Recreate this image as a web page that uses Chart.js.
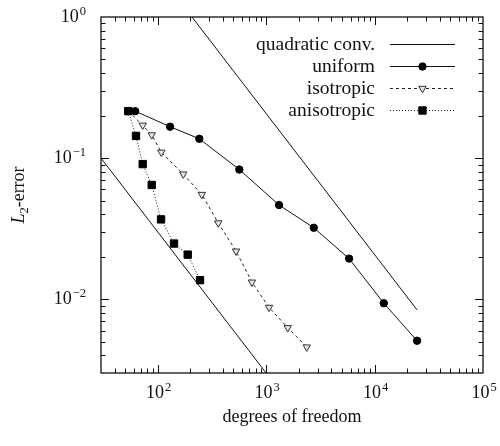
<!DOCTYPE html>
<html><head><meta charset="utf-8">
<script src="https://cdn.jsdelivr.net/npm/chart.js@4/dist/chart.umd.min.js"></script>
<style>html,body{margin:0;padding:0;background:#fff}canvas{display:block}</style>
</head><body>
<canvas id="c" width="500" height="446"></canvas>
<script>
// ---- data ----
const uniformDofs = [62, 130, 242, 566, 1315, 2750, 5820, 12160, 24660];
const uniformErr  = [0.215, 0.167, 0.137, 0.083, 0.0465, 0.0321, 0.0194, 0.00937, 0.00508];

const isoDofs = [53.5, 72.7, 88.1, 108, 172, 255, 362, 528, 740, 1064, 1582, 2370];
const isoErr  = [0.2153, 0.171, 0.146, 0.110, 0.0770, 0.0552, 0.0347, 0.0219, 0.0132, 0.00875, 0.00628, 0.00458];

const anisoDofs = [53.5, 63.1, 72.7, 88.1, 107.4, 141.4, 189.2, 245.6];
const anisoErr  = [0.2153, 0.1436, 0.0907, 0.0645, 0.0368, 0.0248, 0.0207, 0.01365];

const quadLowerDofs = [30, 1000];
const quadLowerErr  = [0.1, 0.003];
const quadUpperDofs = [207, 24660];
const quadUpperErr  = [1, 0.0084];

const legendLabels = ['quadratic conv.', 'uniform', 'isotropic', 'anisotropic'];
const xMajorTicks = [100, 1000, 10000, 100000];
const xTickExps   = ['2', '3', '4', '5'];
const yMajorTicks = [1, 0.1, 0.01];
const yTickExps   = ['0', '\u22121', '\u22122'];
const xRange = [30, 100000];
const yRange = [0.003, 1];
const xTitle = 'degrees of freedom';
const yTitle = ['L', '2', '-error'];

// ---- helpers ----
const pts = (xs, ys) => xs.map((x, i) => ({x: x, y: ys[i]}));
function minorTicks(lo, hi) {
  const out = [];
  for (let d = Math.pow(10, Math.floor(Math.log10(lo))); d < hi; d *= 10) {
    for (let k = 2; k <= 9; k++) { const v = k * d; if (v > lo * 1.0001 && v < hi * 0.9999) out.push(v); }
  }
  return out;
}

const FONT = '"Liberation Serif", "Times New Roman", serif';

const styles = {
  quad:  {borderColor: '#111', borderWidth: 1, borderDash: [], pointStyle: false},
  uni:   {borderColor: '#111', borderWidth: 1, borderDash: [], pointStyle: 'circle', radius: 3.7, rotation: 0, bg: '#000'},
  iso:   {borderColor: '#222', borderWidth: 1, borderDash: [3, 3], pointStyle: 'triangle', radius: 4.3, rotation: 180, bg: '#e4e4e4'},
  aniso: {borderColor: '#111', borderWidth: 1, borderDash: [1, 2], pointStyle: 'rect', radius: 5.2, rotation: 0, bg: '#000'}
};

function ds(label, data, st, order) {
  return {
    label: label, data: data, order: order,
    borderColor: st.borderColor, borderWidth: st.borderWidth, borderDash: st.borderDash,
    backgroundColor: st.bg || st.borderColor,
    pointStyle: st.pointStyle || 'circle', pointRadius: st.pointStyle ? st.radius : 0,
    pointRotation: st.rotation || 0,
    pointBackgroundColor: st.bg || st.borderColor, pointBorderColor: st.pointStyle === 'triangle' ? '#333' : '#000',
    pointBorderWidth: 1, pointHoverRadius: st.pointStyle ? st.radius : 0,
    fill: false, tension: 0
  };
}

const decor = {
  id: 'decor',
  afterDraw(chart) {
    const ctx = chart.ctx, a = chart.chartArea;
    const xs = chart.scales.x, ys = chart.scales.y;
    ctx.save();
    ctx.setLineDash([]);
    ctx.strokeStyle = '#111';
    ctx.lineWidth = 1.3;
    ctx.strokeRect(a.left, a.top, a.right - a.left, a.bottom - a.top);
    ctx.lineWidth = 1;
    const MAJ = 8, MIN = 4.5;
    ctx.beginPath();
    const xt = xMajorTicks.map(v => [v, MAJ]).concat(minorTicks(xRange[0], xRange[1]).map(v => [v, MIN]));
    xt.forEach(([v, L]) => {
      const px = Math.round(xs.getPixelForValue(v)) + 0.5;
      if (px < a.left + 1 || px > a.right - 1) return;
      ctx.moveTo(px, a.bottom); ctx.lineTo(px, a.bottom - L);
      ctx.moveTo(px, a.top); ctx.lineTo(px, a.top + L);
    });
    const yt = yMajorTicks.map(v => [v, MAJ]).concat(minorTicks(yRange[0], yRange[1]).map(v => [v, MIN]));
    yt.forEach(([v, L]) => {
      const py = Math.round(ys.getPixelForValue(v)) + 0.5;
      if (py < a.top + 1 || py > a.bottom - 1) return;
      ctx.moveTo(a.left, py); ctx.lineTo(a.left + L, py);
      ctx.moveTo(a.right, py); ctx.lineTo(a.right - L, py);
    });
    ctx.stroke();

    // tick labels (10^n)
    ctx.fillStyle = '#111';
    const baseFont = '18px ' + FONT, supFont = '12.5px ' + FONT;
    function pow(exp, x, y, align) {
      ctx.font = baseFont; const wb = ctx.measureText('10').width;
      ctx.font = supFont; const we = ctx.measureText(exp).width;
      const x0 = align === 'right' ? x - wb - we - 1 : x - (wb + we + 1) / 2;
      ctx.textAlign = 'left'; ctx.textBaseline = 'alphabetic';
      ctx.font = baseFont; ctx.fillText('10', x0, y);
      ctx.font = supFont; ctx.fillText(exp, x0 + wb + 1, y - 7);
    }
    xMajorTicks.forEach((v, i) => pow(xTickExps[i], xs.getPixelForValue(v) + 1, a.bottom + 25, 'center'));
    yMajorTicks.forEach((v, i) => pow(yTickExps[i], a.left - 15, ys.getPixelForValue(v) + 5, 'right'));

    // axis titles
    ctx.font = '18px ' + FONT; ctx.textAlign = 'center'; ctx.textBaseline = 'alphabetic';
    ctx.fillText(xTitle, (a.left + a.right) / 2, a.bottom + 49);
    ctx.save();
    ctx.translate(24, (a.top + a.bottom) / 2);
    ctx.rotate(-Math.PI / 2);
    const f1 = 'italic 18px ' + FONT, f2 = '12.5px ' + FONT, f3 = '18px ' + FONT;
    ctx.font = f1; const w1 = ctx.measureText(yTitle[0]).width;
    ctx.font = f2; const w2 = ctx.measureText(yTitle[1]).width;
    ctx.font = f3; const w3 = ctx.measureText(yTitle[2]).width;
    let x0 = -(w1 + w2 + w3) / 2;
    ctx.textAlign = 'left';
    ctx.font = f1; ctx.fillText(yTitle[0], x0, 0); x0 += w1;
    ctx.font = f2; ctx.fillText(yTitle[1], x0, 4); x0 += w2;
    ctx.font = f3; ctx.fillText(yTitle[2], x0, 0);
    ctx.restore();

    // legend
    const keys = ['quad', 'uni', 'iso', 'aniso'];
    const rowY = [44, 66, 88, 110];
    ctx.font = '19.5px ' + FONT; ctx.textAlign = 'right'; ctx.textBaseline = 'middle';
    keys.forEach((k, i) => {
      const st = styles[k], y = rowY[i];
      ctx.fillStyle = '#111';
      ctx.fillText(legendLabels[i], 375, y + 1);
      ctx.strokeStyle = st.borderColor; ctx.lineWidth = st.borderWidth;
      ctx.setLineDash(st.borderDash);
      ctx.beginPath(); ctx.moveTo(390, y + 0.5); ctx.lineTo(455, y + 0.5); ctx.stroke();
      ctx.setLineDash([]);
      if (st.pointStyle) {
        ctx.fillStyle = st.bg; ctx.strokeStyle = k === 'iso' ? '#333' : '#000'; ctx.lineWidth = 1;
        Chart.helpers.drawPoint(ctx, {pointStyle: st.pointStyle, radius: st.radius, rotation: st.rotation, borderWidth: 1}, 422.5, y + 0.5);
      }
    });
    ctx.restore();
  }
};

new Chart(document.getElementById('c'), {
  type: 'line',
  data: {
    datasets: [
      ds('anisotropic', pts(anisoDofs, anisoErr), styles.aniso, 0),
      ds('uniform', pts(uniformDofs, uniformErr), styles.uni, 1),
      ds('isotropic', pts(isoDofs, isoErr), styles.iso, 2),
      ds('quadratic conv.', pts(quadLowerDofs, quadLowerErr), styles.quad, 3),
      ds('quadratic conv.', pts(quadUpperDofs, quadUpperErr), styles.quad, 4)
    ]
  },
  options: {
    responsive: false, animation: false, devicePixelRatio: 1,
    layout: {padding: {left: 101, top: 17, right: 17, bottom: 73}},
    plugins: {legend: {display: false}, tooltip: {enabled: false}},
    scales: {
      x: {type: 'logarithmic', min: xRange[0], max: xRange[1], display: false},
      y: {type: 'logarithmic', min: yRange[0], max: yRange[1], display: false}
    }
  },
  plugins: [decor]
});
</script>
</body></html>
